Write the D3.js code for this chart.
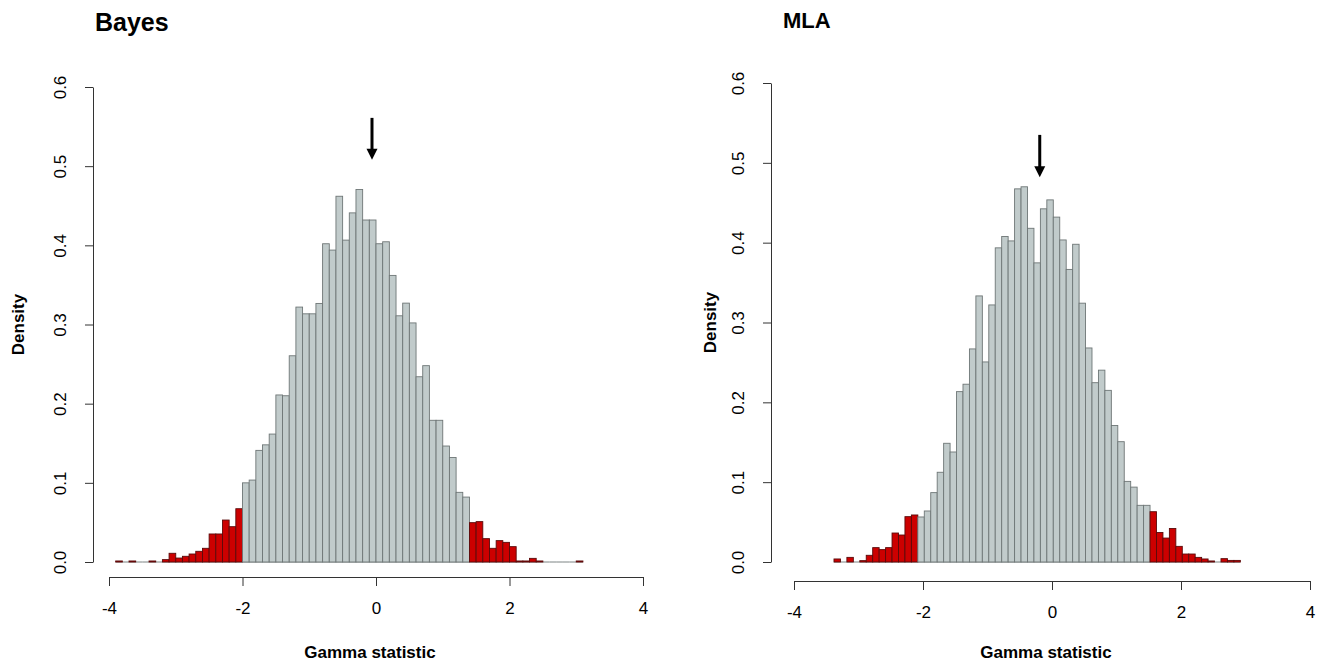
<!DOCTYPE html>
<html lang="en">
<head>
<meta charset="UTF-8">
<title>Gamma statistic</title>
<script src="https://cdn.jsdelivr.net/npm/d3@7"></script>
<style>
  body { margin: 0; background: #fff; }
  text { font-family: "Liberation Sans", Arial, sans-serif; fill: #000; }
</style>
</head>
<body>
<div id="chart"></div>
<script>
    // axis ticks
    var xTicks = [-4, -2, 0, 2, 4];
    var yTicks = [0, 0.1, 0.2, 0.3, 0.4, 0.5, 0.6];
    var binWidth = 0.1;

    // Bayes panel: density per 0.1 bin, first break at bayesStart
    var bayesStart = -3.9;
    var bayesDensity = [
        0.0013, 0, 0.0013, 0, 0, 0.0013, 0, 0.003, 0.011, 0.005,
        0.0072, 0.0101, 0.0135, 0.0173, 0.0354, 0.0354, 0.053, 0.0446, 0.0673,
        0.100, 0.1035, 0.141, 0.148, 0.1616, 0.211, 0.21, 0.2605, 0.322, 0.3135,
        0.3135, 0.3266, 0.402, 0.394, 0.462, 0.4066, 0.441, 0.4705, 0.432, 0.432,
        0.402, 0.4045, 0.362, 0.311, 0.327, 0.302, 0.234, 0.248, 0.179, 0.179,
        0.1465, 0.132, 0.088, 0.082,
        0.0497, 0.051, 0.0295, 0.0173, 0.027, 0.0248, 0.0194, 0.0013, 0.0013, 0.0046,
        0.0013, 0, 0, 0, 0, 0, 0.0013
    ];
    var bayesTails = [-2.0, 1.4];

    // MLA panel
    var mlaStart = -3.38;
    var mlaDensity = [
        0.0038, 0, 0.0058, 0, 0.0017, 0.0084, 0.018, 0.0155, 0.018, 0.0363,
        0.0338, 0.0568, 0.0589,
        0.0564, 0.0639, 0.0869, 0.1124, 0.1487, 0.1378, 0.2134, 0.2227, 0.2669, 0.3333,
        0.2506, 0.322, 0.3935, 0.4077, 0.4022, 0.4674, 0.470, 0.418, 0.3747, 0.4424,
        0.4536, 0.432, 0.4034, 0.3665, 0.398, 0.3242, 0.2681, 0.2246, 0.2403, 0.215,
        0.171, 0.1507, 0.101, 0.0938, 0.071, 0.071,
        0.063, 0.037, 0.030, 0.042, 0.0196, 0.010, 0.010, 0.0058, 0.0038, 0.0013,
        0, 0.0042, 0.002, 0.002
    ];
    var mlaTails = [-2.08, 1.52];

    var titles = ["Bayes", "MLA"];
    // observed value arrows (x position, top and tip in density units)
    var arrowAt = [-0.06, -0.19];
    var arrowTop = [0.561, 0.535];
    var arrowTip = [0.508, 0.482];

    var panels = [
        {start: bayesStart, dens: bayesDensity, tails: bayesTails,
         xr: [109, 643], yr: [562, 87], yAxisX: 93, xAxisY: 577,
         titleX: 95, titleY: 31, titleSize: 25, densX: 18},
        {start: mlaStart, dens: mlaDensity, tails: mlaTails,
         xr: [794, 1310], yr: [562, 83], yAxisX: 771, xAxisY: 581,
         titleX: 783, titleY: 28, titleSize: 22, densX: 710}
    ];

    var svg = d3.select('#chart')
            .append('svg')
            .attr('width', 1320)
            .attr('height', 663);

    panels.forEach(function(p, k){
        var x = d3.scaleLinear().domain([-4, 4]).range(p.xr);
        var y = d3.scaleLinear().domain([0, 0.6]).range(p.yr);
        var g = svg.append('g');

        var bins = p.dens.map(function(d, i){
            var x0 = p.start + i * binWidth;
            var red = x0 + binWidth <= p.tails[0] + 1e-6 || x0 >= p.tails[1] - 1e-6;
            return {x0: x0, x1: x0 + binWidth, d: d, red: red};
        });

        // empty / tiny bins still show their border on the baseline
        g.selectAll('line.base')
                .data(bins)
                .enter()
                .append('line')
                .attr('class', 'base')
                .attr('x1', function(b){ return x(b.x0); })
                .attr('x2', function(b){ return x(b.x1); })
                .attr('y1', y(0)).attr('y2', y(0))
                .attr('stroke', '#6e7676')
                .attr('stroke-width', 0.9);

        g.selectAll('rect')
                .data(bins.filter(function(b){ return b.d > 0; }))
                .enter()
                .append('rect')
                .attr('x', function(b){ return x(b.x0); })
                .attr('width', function(b){ return x(b.x1) - x(b.x0); })
                .attr('y', function(b){ return y(b.d); })
                .attr('height', function(b){ return y(0) - y(b.d); })
                .attr('fill', function(b){ return b.red ? '#cc0000' : '#c1cbcb'; })
                .attr('stroke', function(b){ return b.red ? '#5a0a0a' : '#6e7676'; })
                .attr('stroke-width', 0.9);

        // y axis
        var ya = g.append('g')
                .attr('transform', 'translate(' + p.yAxisX + ',0)')
                .call(d3.axisLeft(y).tickValues(yTicks).tickSize(8).tickSizeOuter(0)
                        .tickFormat(d3.format('.1f')));
        ya.select('.domain').attr('stroke', '#333');
        ya.selectAll('.tick line').attr('stroke', '#333');
        ya.selectAll('.tick text')
                .attr('x', 0).attr('dy', 0)
                .attr('transform', 'translate(-27,0) rotate(-90)')
                .attr('text-anchor', 'middle')
                .style('font-size', '17px')
                .style('font-family', '"Liberation Sans", Arial, sans-serif');

        // x axis
        var xa = g.append('g')
                .attr('transform', 'translate(0,' + p.xAxisY + ')')
                .call(d3.axisBottom(x).tickValues(xTicks).tickSize(9).tickSizeOuter(0)
                        .tickFormat(d3.format('d')));
        xa.select('.domain').attr('stroke', '#333');
        xa.selectAll('.tick line').attr('stroke', '#333');
        xa.selectAll('.tick text')
                .attr('y', 37).attr('dy', 0)
                .style('font-size', '17px')
                .style('font-family', '"Liberation Sans", Arial, sans-serif')
                .text(function(d){ return d < 0 ? '-' + Math.abs(d) : d; });

        // labels
        g.append('text')
                .attr('x', p.titleX).attr('y', p.titleY)
                .style('font-size', p.titleSize + 'px')
                .style('font-weight', 'bold')
                .text(titles[k]);
        g.append('text')
                .attr('x', (p.xr[0] + p.xr[1]) / 2 - 6).attr('y', 658)
                .attr('text-anchor', 'middle')
                .style('font-size', '17px').style('font-weight', 'bold')
                .text('Gamma statistic');
        g.append('text')
                .attr('transform', 'translate(' + (p.densX + 6) + ',' + ((p.yr[0] + p.yr[1]) / 2) + ') rotate(-90)')
                .attr('text-anchor', 'middle')
                .style('font-size', '17px').style('font-weight', 'bold')
                .text('Density');

        // arrow
        var ax = x(arrowAt[k]), ay0 = y(arrowTop[k]), ay1 = y(arrowTip[k]);
        g.append('line')
                .attr('x1', ax).attr('x2', ax)
                .attr('y1', ay0).attr('y2', ay1 - 9)
                .attr('stroke', '#000').attr('stroke-width', 3);
        g.append('path')
                .attr('d', 'M' + (ax - 5.5) + ',' + (ay1 - 11) + 'L' + (ax + 5.5) + ',' + (ay1 - 11) + 'L' + ax + ',' + ay1 + 'Z')
                .attr('fill', '#000');
    });
</script>
</body>
</html>
